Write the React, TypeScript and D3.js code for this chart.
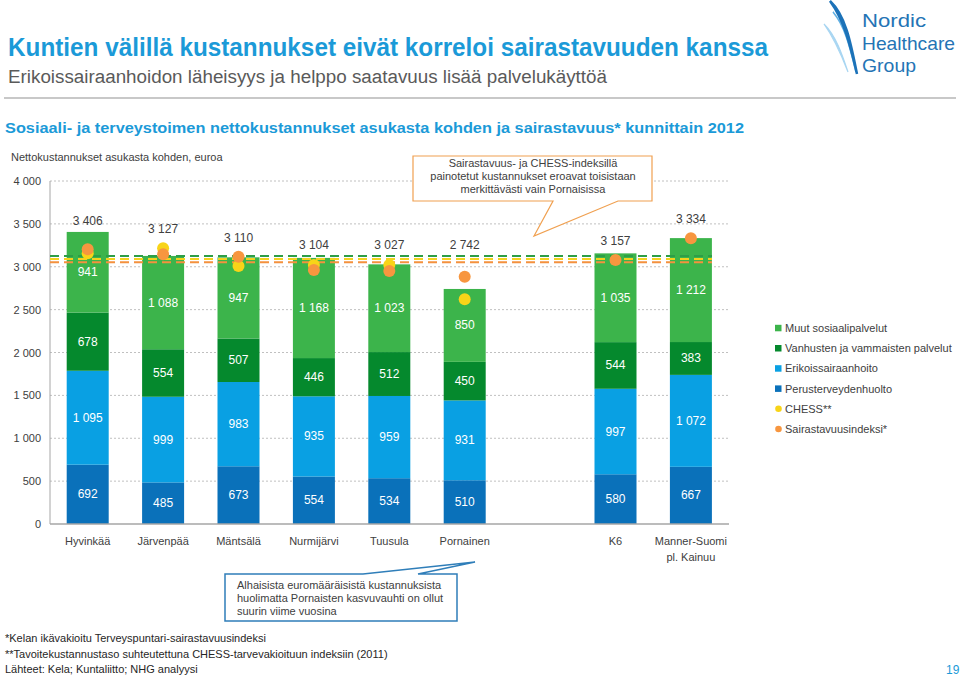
import React from "react";
import * as d3 from "d3";

const categories = ["Hyvinkää", "Järvenpää", "Mäntsälä", "Nurmijärvi", "Tuusula", "Pornainen", "K6", "Manner-Suomi pl. Kainuu"];
const slots = ["Hyvinkää", "Järvenpää", "Mäntsälä", "Nurmijärvi", "Tuusula", "Pornainen", "gap", "K6", "Manner-Suomi pl. Kainuu"];
const perusterveydenhuolto = [692, 485, 673, 554, 534, 510, 580, 667];
const erikoissairaanhoito = [1095, 999, 983, 935, 959, 931, 997, 1072];
const vanhusten = [678, 554, 507, 446, 512, 450, 544, 383];
const muut = [941, 1088, 947, 1168, 1023, 850, 1035, 1212];
const totals = [3406, 3127, 3110, 3104, 3027, 2742, 3157, 3334];
const chess: (number | null)[] = [3157, 3215, 3009, 3020, 3020, 2620, null, null];
const sairastavuus: (number | null)[] = [3203, 3145, 3117, 2962, 2950, 2884, 3079, 3332];
const referenceValues = [3125, 3090, 3052];
const yTicks = [0, 500, 1000, 1500, 2000, 2500, 3000, 3500, 4000];
const seriesNames = ["Perusterveydenhuolto", "Erikoissairaanhoito", "Vanhusten ja vammaisten palvelut", "Muut sosiaalipalvelut"];
const legendNames = ["Muut sosiaalipalvelut", "Vanhusten ja vammaisten palvelut", "Erikoissairaanhoito", "Perusterveydenhuolto", "CHESS**", "Sairastavuusindeksi*"];

const colors: Record<string, string> = {
  "Perusterveydenhuolto": "#0A71BA",
  "Erikoissairaanhoito": "#09A0E3",
  "Vanhusten ja vammaisten palvelut": "#05892D",
  "Muut sosiaalipalvelut": "#3CB44B",
  "CHESS**": "#F8D418",
  "Sairastavuusindeksi*": "#F7963F",
};
const refColors = ["#2E9E47", "#F3D21D", "#F4913E"];

const FONT = "'Liberation Sans', Arial, Helvetica, sans-serif";
const fmt = d3.formatLocale({ decimal: ",", thousands: " ", grouping: [3], currency: ["", "€"] }).format(",d");

export default function App() {
  const x = d3.scaleBand<string>().domain(slots).range([50, 728.6]).paddingInner(0.443).paddingOuter(0.2215);
  const y = d3.scaleLinear().domain([0, 4000]).range([524, 181]);
  const R = 6;

  const rows = categories.map((c, i) => ({
    cat: c,
    "Perusterveydenhuolto": perusterveydenhuolto[i],
    "Erikoissairaanhoito": erikoissairaanhoito[i],
    "Vanhusten ja vammaisten palvelut": vanhusten[i],
    "Muut sosiaalipalvelut": muut[i],
  }));
  const stacked = d3.stack<any>().keys(seriesNames)(rows);
  const bw = x.bandwidth();
  const cx = (c: string) => (x(c) as number) + bw / 2;
  const dashTop = y(d3.max(referenceValues) as number) - 1;

  const totalY = (i: number) => {
    const barTop = y(stacked[3][i][1]);
    const dots = [chess[i], sairastavuus[i]].filter((v) => v != null).map((v) => y(v as number) - R);
    const dotTop = dots.length ? Math.min(...dots) : Infinity;
    return Math.min(barTop - 7, dotTop - 9, dashTop - 6);
  };

  return (
    <svg width={960} height={676} style={{ position: "absolute", left: 0, top: 0, background: "#fff" }} fontFamily={FONT}>
      {/* Header */}
      <text x={8} y={56} fontSize={25} fontWeight="bold" fill="#1B9AD8" textLength={760} lengthAdjust="spacingAndGlyphs">
        Kuntien välillä kustannukset eivät korreloi sairastavuuden kanssa
      </text>
      <text x={8} y={83} fontSize={18} fill="#5a5a5a" textLength={599} lengthAdjust="spacingAndGlyphs">
        Erikoissairaanhoidon läheisyys ja helppo saatavuus lisää palvelukäyttöä
      </text>
      <line x1={4} x2={956} y1={98} y2={98} stroke="#c8c8c8" strokeWidth={2} />
      <text x={5} y={133} fontSize={15.5} fontWeight="bold" fill="#1B9AD8" textLength={739} lengthAdjust="spacingAndGlyphs">
        Sosiaali- ja terveystoimen nettokustannukset  asukasta kohden ja sairastavuus* kunnittain 2012
      </text>

      {/* Logo */}
      <g>
        <path d="M824,24 C836,36 842,54 848,72 C841,54 834,38 824,24 Z" fill="#A9D6F2" stroke="#A9D6F2" strokeWidth={1.2} />
        <path d="M833,12 C845,26 850,48 856,72 C851,48 846,28 833,12 Z" fill="#5FB0E4" stroke="#5FB0E4" strokeWidth={1.5} />
        <path d="M830,1 C846,16 851,44 857,74 C850,44 844,20 830,1 Z" fill="#1C72B8" stroke="#1C72B8" strokeWidth={2.5} />
        <text x={862} y={27} fontSize={19} fill="#2474B5" textLength={64} lengthAdjust="spacingAndGlyphs">Nordic</text>
        <text x={862} y={50} fontSize={19} fill="#2474B5" textLength={93} lengthAdjust="spacingAndGlyphs">Healthcare</text>
        <text x={862} y={72} fontSize={19} fill="#2474B5" textLength={54} lengthAdjust="spacingAndGlyphs">Group</text>
      </g>

      {/* axis title */}
      <text x={11} y={161} fontSize={11} fill="#404040">Nettokustannukset asukasta kohden, euroa</text>

      {/* grid */}
      {yTicks.filter((t) => t > 0).map((t) => (
        <line key={"g" + t} x1={50} x2={729} y1={y(t)} y2={y(t)} stroke="#c0c0c0" strokeDasharray="2,2" strokeWidth={1} />
      ))}
      {yTicks.map((t) => (
        <text key={"t" + t} x={41} y={y(t) + 4} fontSize={11} fill="#404040" textAnchor="end">{fmt(t)}</text>
      ))}
      <line x1={50} x2={50} y1={y(4000)} y2={y(0)} stroke="#a6a6a6" strokeWidth={1} />

      {/* bars */}
      {stacked.map((s) => (
        <g key={s.key} fill={colors[s.key]}>
          {s.map((d, i) => (
            <rect key={i} x={x(categories[i])} width={bw} y={y(d[1])} height={y(d[0]) - y(d[1])} />
          ))}
        </g>
      ))}
      <line x1={50} x2={729} y1={y(0)} y2={y(0)} stroke="#a6a6a6" strokeWidth={1.5} />

      {/* segment labels */}
      {stacked.map((s) => s.map((d, i) => (
        <text key={s.key + i} x={cx(categories[i])} y={(y(d[0]) + y(d[1])) / 2 + 4} fontSize={12} fill="#fff" textAnchor="middle">
          {fmt(d[1] - d[0])}
        </text>
      )))}

      {/* totals */}
      {categories.map((c, i) => (
        <text key={"tot" + i} x={cx(c)} y={totalY(i)} fontSize={12} fill="#404040" textAnchor="middle">{fmt(totals[i])}</text>
      ))}

      {/* reference dashed lines */}
      {referenceValues.map((v, i) => (
        <line key={"r" + i} x1={50} x2={712} y1={y(v)} y2={y(v)} stroke={refColors[i]} strokeWidth={2} strokeDasharray="9,5" />
      ))}

      {/* dots */}
      {categories.map((c, i) => chess[i] != null ? (
        <circle key={"c" + i} cx={cx(c)} cy={y(chess[i] as number)} r={R} fill={colors["CHESS**"]} />
      ) : null)}
      {categories.map((c, i) => sairastavuus[i] != null ? (
        <circle key={"s" + i} cx={cx(c)} cy={y(sairastavuus[i] as number)} r={R} fill={colors["Sairastavuusindeksi*"]} />
      ) : null)}

      {/* x labels */}
      {categories.map((c) => {
        const parts = c.includes(" pl.") ? [c.split(" pl.")[0], "pl." + c.split(" pl.")[1]] : [c];
        return parts.map((p, j) => (
          <text key={c + j} x={cx(c)} y={545 + j * 16} fontSize={11} fill="#404040" textAnchor="middle">{p}</text>
        ));
      })}

      {/* legend */}
      {legendNames.map((n, i) => {
        const ly = 328 + i * 20.2;
        const isDot = n === "CHESS**" || n === "Sairastavuusindeksi*";
        return (
          <g key={n}>
            {isDot ? <circle cx={778.5} cy={ly} r={3.3} fill={colors[n]} /> : <rect x={775} y={ly - 3.2} width={6.5} height={6.5} fill={colors[n]} />}
            <text x={785} y={ly + 4} fontSize={11} fill="#404040">{n}</text>
          </g>
        );
      })}

      {/* callout 1 */}
      <path d="M413,156 H652 V201 H618 L534,236 L553,201 H413 Z" fill="#fff" stroke="#F0A050" strokeWidth={1.2} />
      <text x={533} y={167} fontSize={11} fill="#404040" textAnchor="middle">Sairastavuus-  ja CHESS-indeksillä</text>
      <text x={533} y={180} fontSize={11} fill="#404040" textAnchor="middle">painotetut  kustannukset  eroavat  toisistaan</text>
      <text x={533} y={193} fontSize={11} fill="#404040" textAnchor="middle">merkittävästi vain Pornaisissa</text>

      {/* callout 2 */}
      <path d="M225,574 H363 L475,562 L418,574 H457 V621 H225 Z" fill="#fff" stroke="#2F7EB9" strokeWidth={1.5} />
      <text x={237} y={589} fontSize={11} fill="#404040">Alhaisista  euromääräisistä  kustannuksista</text>
      <text x={237} y={602} fontSize={11} fill="#404040">huolimatta  Pornaisten  kasvuvauhti  on  ollut</text>
      <text x={237} y={615} fontSize={11} fill="#404040">suurin  viime  vuosina</text>

      {/* footnotes */}
      <text x={5} y={642} fontSize={11} fill="#262626">*Kelan ikävakioitu Terveyspuntari-sairastavuusindeksi</text>
      <text x={5} y={658} fontSize={11} fill="#262626">**Tavoitekustannustaso  suhteutettuna  CHESS-tarvevakioituun  indeksiin  (2011)</text>
      <text x={5} y={673} fontSize={11} fill="#262626">Lähteet: Kela; Kuntaliitto; NHG analyysi</text>
      <text x={946} y={674} fontSize={12} fill="#1B9AD8">19</text>
    </svg>
  );
}
